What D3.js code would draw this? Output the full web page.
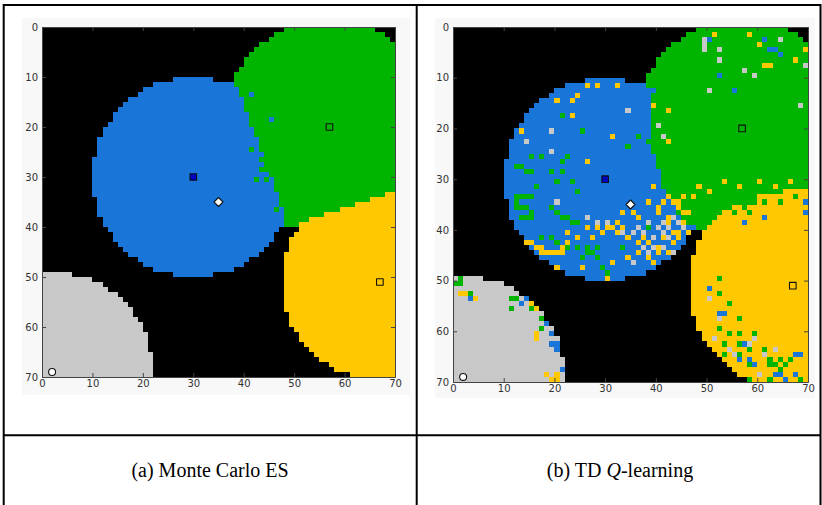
<!DOCTYPE html>
<html><head><meta charset="utf-8">
<script src="https://cdn.jsdelivr.net/npm/d3@7"></script>
<style>body{margin:0;background:#fff}svg{display:block}</style>
</head><body><svg id="c" width="822" height="505"></svg>
<script>
// ---------------- data ----------------
const xTicks = [0,10,20,30,40,50,60,70];
const yTicks = [0,10,20,30,40,50,60,70];
const gridSize = 70;
const goalNames  = ["blue","green","yellow","gray"];
const goalX      = [30, 57, 67, 2];
const goalY      = [30, 20, 51, 69];
const goalColors = ["#1976d8","#00b400","#ffc800","#c8c8c8"];
const mcRadius   = [20, 21.5, 19.5, 20];
const tdRadius   = [20, 21.5, 20.5, 20];
// TD panel: column where green starts (blue/green overlap), as [fromRow, col]
const tdGreenFrom = [[0,40],[13,39],[25,40],[28,41],[32,42],[34,45]];
// TD panel: row where yellow starts (green/yellow overlap), as [fromCol, row]
const tdYellowFrom = [[40,37],[48,36],[54,35],[60,33],[65,32]];
const captionA = "(a) Monte Carlo ES";
const captionB = ["(b) TD ", "Q", "-learning"];
// markers
const markerX     = [30, 35, 57, 67, 2];
const markerY     = [30, 35, 20, 51, 69];
const markerShape = ["square","diamond","square","square","circle"];
const markerFill  = ["#0000c0","#ffffff","#00b400","#ffc800","#ffffff"];
// noise cells [col,row]
const mcNoiseGreen = [[41,24],[43,28],[44,28],[42,30],[44,30],[46,36],[43,26]];
const mcNoiseBlue  = [[38,14],[41,13],[45,18]];
const tdNoiseYellow = [[26,11],[28,11],[32,11],[24,13],[23,14],[20,14],[23,17],[13,20],[31,21],[39,31],[26,26],
  [33,36],[35,36],[32,38],[33,39],[36,37],[38,38],[40,36],[42,33],[43,34],[44,35],[42,37],[43,40],[44,40],[45,36],
  [38,42],[36,44],[40,44],[17,43],[19,44],[21,43],[22,42],[24,41],[14,42],[16,43],[14,43],[15,42],[17,44],[18,44],
  [20,44],[21,44],[22,40],[26,39],[28,39],[30,39],[31,39],[20,47],[30,49],[11,20],[39,15],[42,16],[42,22],
  [38,34],[40,35],[42,38],[43,42],[38,45],[40,43],[44,34],[46,36],[41,34],[45,38],[44,41],[41,41],[37,41],[34,41],
  [32,40],[29,40],[27,41],[34,45],[31,46],[25,47],[42,44],[46,40],[39,46],[36,42],
  [48,31],[50,32],[53,30],[56,31],[60,30],[63,31],[66,30],[45,33],[47,33],
  [51,1],[58,1],[60,3],[69,4],[67,6],[61,7],[62,7],
  [1,52],[2,52],[4,53],[12,51],[15,54],[16,55],[16,60],[16,61],[18,68],[19,69],[20,68],[20,69]];
const tdNoiseGray = [[34,16],[19,20],[14,22],[19,24],[20,34],[26,37],[28,38],[30,38],[35,40],[37,40],[39,41],
  [41,38],[42,39],[43,37],[39,43],[41,43],[38,44],[40,19],[41,21],[38,38],[41,40],[45,39],[40,39],[36,39],[33,40],
  [37,43],[44,38],[42,41],[35,46],[43,44],
  [49,2],[49,3],[49,4],[64,2],[52,4],[52,6],[57,8],[59,9],[50,12],[69,7],[68,15],
  [50,53],[52,57],[59,61],[58,62],[51,61],[54,63],[55,64],[61,64],[63,63],[60,68]];
const tdNoiseGreen = [[21,17],[25,20],[34,23],[36,21],[38,22],[17,25],[15,25],[22,25],[21,26],[19,28],[21,28],
  [12,27],[13,27],[14,28],[15,28],[20,30],[23,30],[16,31],[24,32],[12,33],[13,33],[14,33],[15,33],[12,34],[12,35],
  [13,35],[14,35],[15,36],[15,37],[14,37],[13,37],[19,35],[20,36],[21,37],[22,37],[23,38],[24,38],[27,44],[26,43],
  [33,43],[38,39],[26,44],[28,43],[25,45],[28,45],[29,47],[30,48],[19,41],[20,42],[17,41],[22,43],[24,43],[44,36],
  [51,35],[54,35],[57,35],[61,34],[64,34],[67,33],
  [1,49],[1,50],[0,50],[2,48],[3,52],[12,53],[11,53],[11,55],[15,55],[17,57],[17,59],
  [52,49],[52,52],[54,54],[56,57],[52,59],[54,60],[56,60],[59,60],[53,62],[56,62],[53,64],[56,64],[58,66],
  [62,66],[63,66],[65,66],[58,69],[55,36],[58,36],[58,63],[61,63],[62,65],[64,65],[66,65],[64,67],[62,69],[68,69]];
const tdNoiseBlue = [[50,2],[61,2],[62,4],[63,4],[64,5],[52,9],[55,12],
  [3,53],[13,54],[14,53],[18,58],[19,60],[19,62],[20,63],[20,62],[21,67],
  [50,51],[52,56],[53,56],[57,62],[56,65],[59,66],[67,64],[63,68],[65,69],[69,36],[69,34],[57,38],[61,37],
  [58,65],[68,64],[64,68],[67,68]];

// ---------------- drawing ----------------
const svg = d3.select("#c");
const lines = [[3,5,821,5],[3.7,4,3.7,505],[416.7,4,416.7,505],[820.5,4,820.5,505],[3,435.3,821,435.3]];
svg.selectAll("line.tbl").data(lines).join("line").attr("class","tbl")
  .attr("x1",d=>d[0]).attr("y1",d=>d[1]).attr("x2",d=>d[2]).attr("y2",d=>d[3])
  .attr("stroke","#000").attr("stroke-width",2);

function lookupStep(arr, key){ let v = arr[0][1]; for (const a of arr) if (key >= a[0]) v = a[1]; return v; }

function classify(c, r, radius, useEdges){
  const cx = c + 0.5, cy = r + 0.5;
  const inside = [];
  for (let k = 0; k < goalNames.length; k++){
    const d = Math.hypot(cx - goalX[k], cy - goalY[k]);
    if (d <= radius[k]) inside.push({k, d});
  }
  if (!inside.length) return "#000";
  if (inside.length === 1) return goalColors[inside[0].k];
  const ks = inside.map(o=>o.k);
  if (useEdges){
    if (ks.includes(0) && ks.includes(1)) return c >= lookupStep(tdGreenFrom, r) ? goalColors[1] : goalColors[0];
    if (ks.includes(1) && ks.includes(2)) return r >= lookupStep(tdYellowFrom, c) ? goalColors[2] : goalColors[1];
  }
  inside.sort((a,b)=>a.d-b.d);
  return goalColors[inside[0].k];
}

function panel(opt){
  const g = svg.append("g");
  g.append("rect").attr("x",opt.bg[0]).attr("y",opt.bg[1]).attr("width",opt.bg[2]).attr("height",opt.bg[3]).attr("fill","#f8f8f8");
  const x = d3.scaleLinear().domain([0,gridSize]).range(opt.xr);
  const y = d3.scaleLinear().domain([0,gridSize]).range(opt.yr);
  const cells = [];
  const noise = new Map();
  opt.noise.forEach(([list,col]) => list.forEach(([c,r]) => noise.set(c+","+r, col)));
  for (let r = 0; r < gridSize; r++) for (let c = 0; c < gridSize; c++){
    let col = classify(c, r, opt.radius, opt.edges);
    const key = c+","+r;
    if (noise.has(key) && col !== "#000") col = noise.get(key);
    cells.push({c, r, col});
  }
  g.append("g").selectAll("rect").data(cells).join("rect")
    .attr("x",d=>x(d.c)).attr("y",d=>y(d.r))
    .attr("width",x(1)-x(0)+0.6).attr("height",y(1)-y(0)+0.6)
    .attr("fill",d=>d.col).attr("shape-rendering","crispEdges");
  const mk = markerX.map((v,i)=>({x:v,y:markerY[i],s:markerShape[i],f:markerFill[i]}));
  g.append("g").selectAll("path").data(mk).join("path")
    .attr("transform",d=>`translate(${x(d.x)},${y(d.y)})`)
    .attr("d",d=> d.s==="diamond" ? "M0,-4.5L4.5,0L0,4.5L-4.5,0Z" :
                  d.s==="circle" ? d3.symbol(d3.symbolCircle, 38)() : "M-3.3,-3.3H3.3V3.3H-3.3Z")
    .attr("fill",d=>d.f).attr("stroke","#111").attr("stroke-width",1.1).attr("stroke-linejoin","round");
  const fmt = d3.format("d");
  const ax = [
    [d3.axisBottom(x).tickValues(xTicks).tickSizeInner(-4).tickSizeOuter(0).tickPadding(3).tickFormat(fmt), `translate(0,${opt.yr[1]})`],
    [d3.axisLeft(y).tickValues(yTicks).tickSizeInner(-4).tickSizeOuter(0).tickPadding(4).tickFormat(fmt), `translate(${opt.xr[0]},0)`],
    [d3.axisTop(x).tickValues(xTicks).tickSizeInner(-4).tickSizeOuter(0).tickFormat(""), `translate(0,${opt.yr[0]})`],
    [d3.axisRight(y).tickValues(yTicks).tickSizeInner(-4).tickSizeOuter(0).tickFormat(""), `translate(${opt.xr[1]},0)`]
  ];
  ax.forEach(([a,t])=>{
    const ga = g.append("g").attr("transform",t).call(a);
    ga.select(".domain").attr("stroke","#444").attr("stroke-width",1);
    ga.selectAll(".tick line").attr("stroke","#444");
    ga.selectAll("text").attr("fill","#333").style("font-family","'DejaVu Sans'").style("font-size","10px");
  });
}

panel({xr:[42,395], yr:[27,377], bg:[22,18,388,377], radius:mcRadius, edges:false,
       noise:[[mcNoiseGreen,goalColors[1]],[mcNoiseBlue,goalColors[0]]]});
panel({xr:[453,808], yr:[27,382], bg:[435,18,380,380], radius:tdRadius, edges:true,
       noise:[[tdNoiseYellow,goalColors[2]],[tdNoiseGray,goalColors[3]],[tdNoiseGreen,goalColors[1]],[tdNoiseBlue,goalColors[0]]]});

svg.append("text").attr("x",210).attr("y",477).attr("text-anchor","middle")
  .style("font-family","'Liberation Serif'").style("font-size","20px").text(captionA);
const tb = svg.append("text").attr("x",620).attr("y",477).attr("text-anchor","middle")
  .style("font-family","'Liberation Serif'").style("font-size","20px");
tb.append("tspan").text(captionB[0]);
tb.append("tspan").style("font-style","italic").text(captionB[1]);
tb.append("tspan").text(captionB[2]);
</script></body></html>
